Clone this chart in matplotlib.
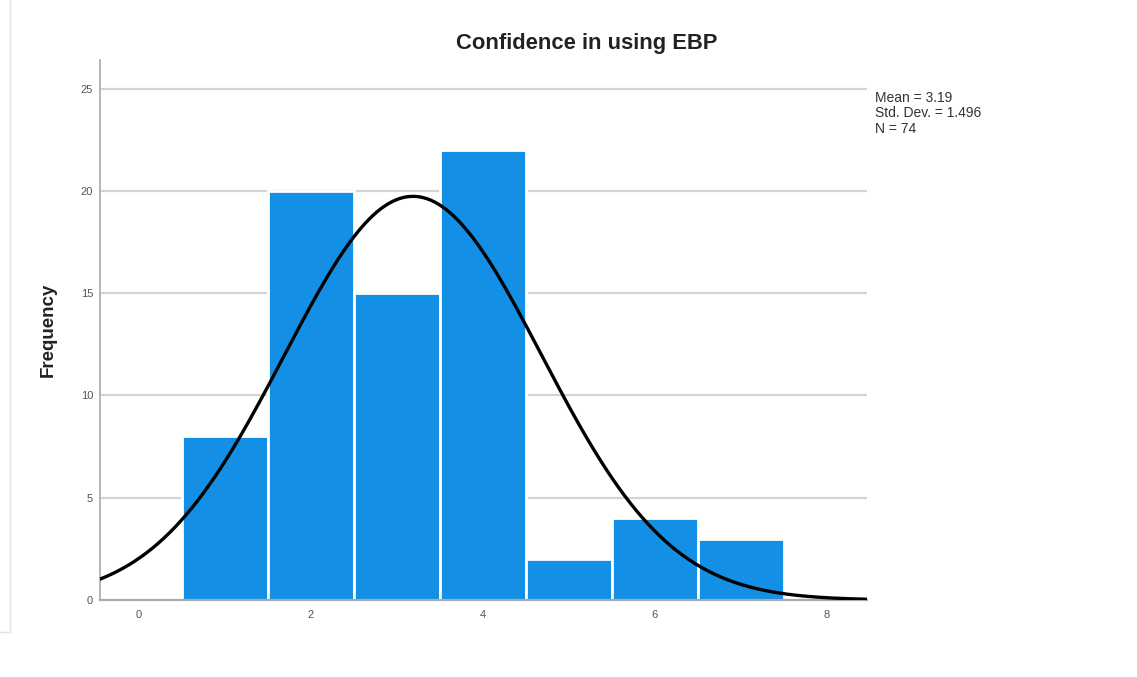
import numpy as np
import matplotlib.pyplot as plt

plt.rcParams['font.family'] = ['Liberation Sans', 'DejaVu Sans']

# histogram data
scores = [1, 2, 3, 4, 5, 6, 7]
counts = [8, 20, 15, 22, 2, 4, 3]
mean = 3.19
std_dev = 1.496
n_total = 74
yticks = [0, 5, 10, 15, 20, 25]
xticks = [0, 2, 4, 6, 8]

fig = plt.figure(figsize=(11.37, 6.77), dpi=100)
ax = fig.add_axes([0.088, 0.1137, 0.6745, 0.7977])

ax.set_xlim(-0.45, 8.47)
ax.set_ylim(0, 26.4)

# grid behind the bars
for y in yticks[1:]:
    ax.axhline(y, color='#d4d4d4', lw=1.6, zorder=0)

ax.bar(scores, counts, width=1.0, color='#1390e5', edgecolor='white',
       linewidth=2.0, zorder=2)

# normal curve scaled to the counts
xs = np.linspace(-0.45, 8.47, 400)
pdf = np.exp(-0.5 * ((xs - mean) / std_dev) ** 2) / (std_dev * np.sqrt(2 * np.pi))
ax.plot(xs, pdf * n_total, color='black', lw=2.4, zorder=3, solid_capstyle='round')

ax.set_xticks(xticks)
ax.set_yticks(yticks)
ax.tick_params(length=0, labelsize=8, colors='#555555')
ax.tick_params(axis='y', pad=5)
ax.tick_params(axis='x', pad=7)
for s in ['top', 'right']:
    ax.spines[s].set_visible(False)
ax.spines['left'].set_color('#aaaaaa')
ax.spines['bottom'].set_color('#aaaaaa')
ax.spines['left'].set_linewidth(1.2)
ax.spines['bottom'].set_linewidth(1.6)

ax.set_ylabel('Frequency', fontsize=13.5, fontweight='bold', labelpad=17, color='#222222')
fig.text(587 / 1137, 1 - 44 / 677, 'Confidence in using EBP', fontsize=15.8,
         fontweight='bold', ha='center', va='center', color='#222222')

fig.text(875 / 1137, 1 - 91 / 677,
         'Mean = %.2f\nStd. Dev. = %.3f\nN = %d' % (mean, std_dev, n_total),
         fontsize=10, va='top', ha='left', color='#333333', linespacing=1.12)

# faint frame of the screenshot
fig.add_artist(plt.Line2D([10 / 1137, 10 / 1137], [1 - 632 / 677, 1.0],
                          color='#e4e4e4', lw=1))
fig.add_artist(plt.Line2D([0, 10 / 1137], [1 - 632 / 677, 1 - 632 / 677],
                          color='#e4e4e4', lw=1))

fig.savefig('out.png', dpi=100)
